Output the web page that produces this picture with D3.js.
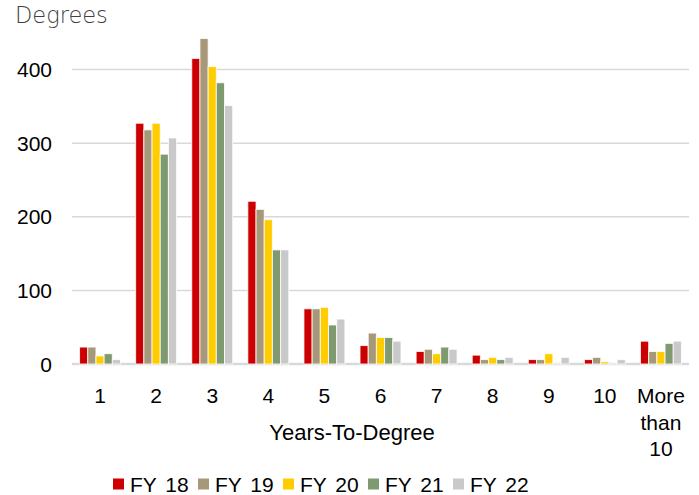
<!DOCTYPE html>
<html>
<head>
<meta charset="utf-8">
<script src="https://cdn.jsdelivr.net/npm/d3@7"></script>
<style>
body { margin:0; background:#fff; }
</style>
</head>
<body>
<div id="chart"></div>
<script>

var categories = ["1","2","3","4","5","6","7","8","9","10","More than 10"];
var series = ["FY 18","FY 19","FY 20","FY 21","FY 22"];
var colors = ["#cc0000","#a69879","#ffcc00","#7f9a6f","#c9c9c9"];

var fy18 = [23, 327, 415, 221, 75, 25, 17, 12, 6, 6, 31];
var fy19 = [23, 318, 442, 210, 75, 42, 20, 6, 6, 9, 17];
var fy20 = [11, 327, 404, 196, 77, 36, 14, 9, 14, 3, 17];
var fy21 = [14, 285, 382, 155, 53, 36, 23, 6, 1, 1, 28];
var fy22 = [6, 307, 351, 155, 61, 31, 20, 9, 9, 6, 31];

var yTicks = [0, 100, 200, 300, 400];

var values = [fy18, fy19, fy20, fy21, fy22];

var width = 699, height = 495;
var plot = {left: 72, right: 689, top: 69.5, bot: 364};
var fnt = "'Liberation Sans', Arial, sans-serif";

var svg = d3.select("#chart").append("svg")
    .attr("width", width)
    .attr("height", height);

var x0 = d3.scaleBand()
    .domain(categories)
    .range([plot.left, plot.right])
    .paddingInner(0.27)
    .paddingOuter(0.135);

var x1 = d3.scaleBand()
    .domain(series)
    .range([0, x0.bandwidth()]);

var y = d3.scaleLinear()
    .domain([0, 400])
    .range([plot.bot, plot.top]);

// gridlines
svg.append("g")
    .selectAll("line")
    .data(yTicks)
    .join("line")
    .attr("x1", plot.left)
    .attr("x2", plot.right)
    .attr("y1", d => y(d))
    .attr("y2", d => y(d))
    .attr("stroke", "#d9d9d9")
    .attr("stroke-width", d => d == 0 ? 2.5 : 1.5);

// y tick labels
svg.append("g")
    .selectAll("text")
    .data(yTicks)
    .join("text")
    .attr("x", 52)
    .attr("y", d => y(d))
    .attr("dy", "0.36em")
    .attr("text-anchor", "end")
    .attr("font-family", fnt)
    .attr("font-size", 21)
    .attr("fill", "#000")
    .text(d => d);

// bars
var groups = svg.append("g")
    .selectAll("g")
    .data(categories)
    .join("g")
    .attr("transform", d => "translate(" + x0(d) + ",0)");

groups.selectAll("rect")
    .data((c, i) => series.map((s, j) => ({s: s, j: j, v: values[j][i]})))
    .join("rect")
    .attr("x", d => x1(d.s))
    .attr("width", x1.bandwidth())
    .attr("y", d => y(d.v))
    .attr("height", d => y(0) - y(d.v))
    .attr("fill", d => colors[d.j])
    .attr("stroke", "#fff")
    .attr("stroke-opacity", 0.8)
    .attr("stroke-width", 1);

// x tick labels
var xl = svg.append("g")
    .selectAll("text")
    .data(categories)
    .join("text")
    .attr("x", d => x0(d) + x0.bandwidth() / 2)
    .attr("y", 403)
    .attr("text-anchor", "middle")
    .attr("font-family", fnt)
    .attr("font-size", 21)
    .attr("fill", "#000");

xl.each(function(d) {
    var el = d3.select(this);
    var words = d == "More than 10" ? ["More", "than", "10"] : [d];
    words.forEach(function(w, k) {
        el.append("tspan")
            .attr("x", el.attr("x"))
            .attr("dy", k == 0 ? 0 : 26.5)
            .text(w);
    });
});

// axis title
svg.append("text")
    .attr("x", 352)
    .attr("y", 440)
    .attr("text-anchor", "middle")
    .attr("font-family", fnt)
    .attr("font-size", 22)
    .attr("fill", "#000")
    .text("Years-To-Degree");

svg.append("text")
    .attr("x", 15)
    .attr("y", 23)
    .attr("font-family", "'DejaVu Sans', sans-serif")
    .attr("font-weight", 200)
    .attr("font-size", 22.5)
    .attr("fill", "#404040")
    .text("Degrees");

// legend
var leg = svg.append("g")
    .selectAll("g")
    .data(series)
    .join("g")
    .attr("transform", (d, i) => "translate(" + (113 + i * 85) + ",484)");

leg.append("rect")
    .attr("x", 0)
    .attr("y", -5.5)
    .attr("width", 11)
    .attr("height", 11)
    .attr("fill", (d, i) => colors[i]);

leg.append("text")
    .attr("x", 17)
    .attr("y", 7.5)
    .attr("font-family", fnt)
    .attr("font-size", 21)
    .attr("word-spacing", 3)
    .attr("fill", "#000")
    .text(d => d);

</script>
</body>
</html>
